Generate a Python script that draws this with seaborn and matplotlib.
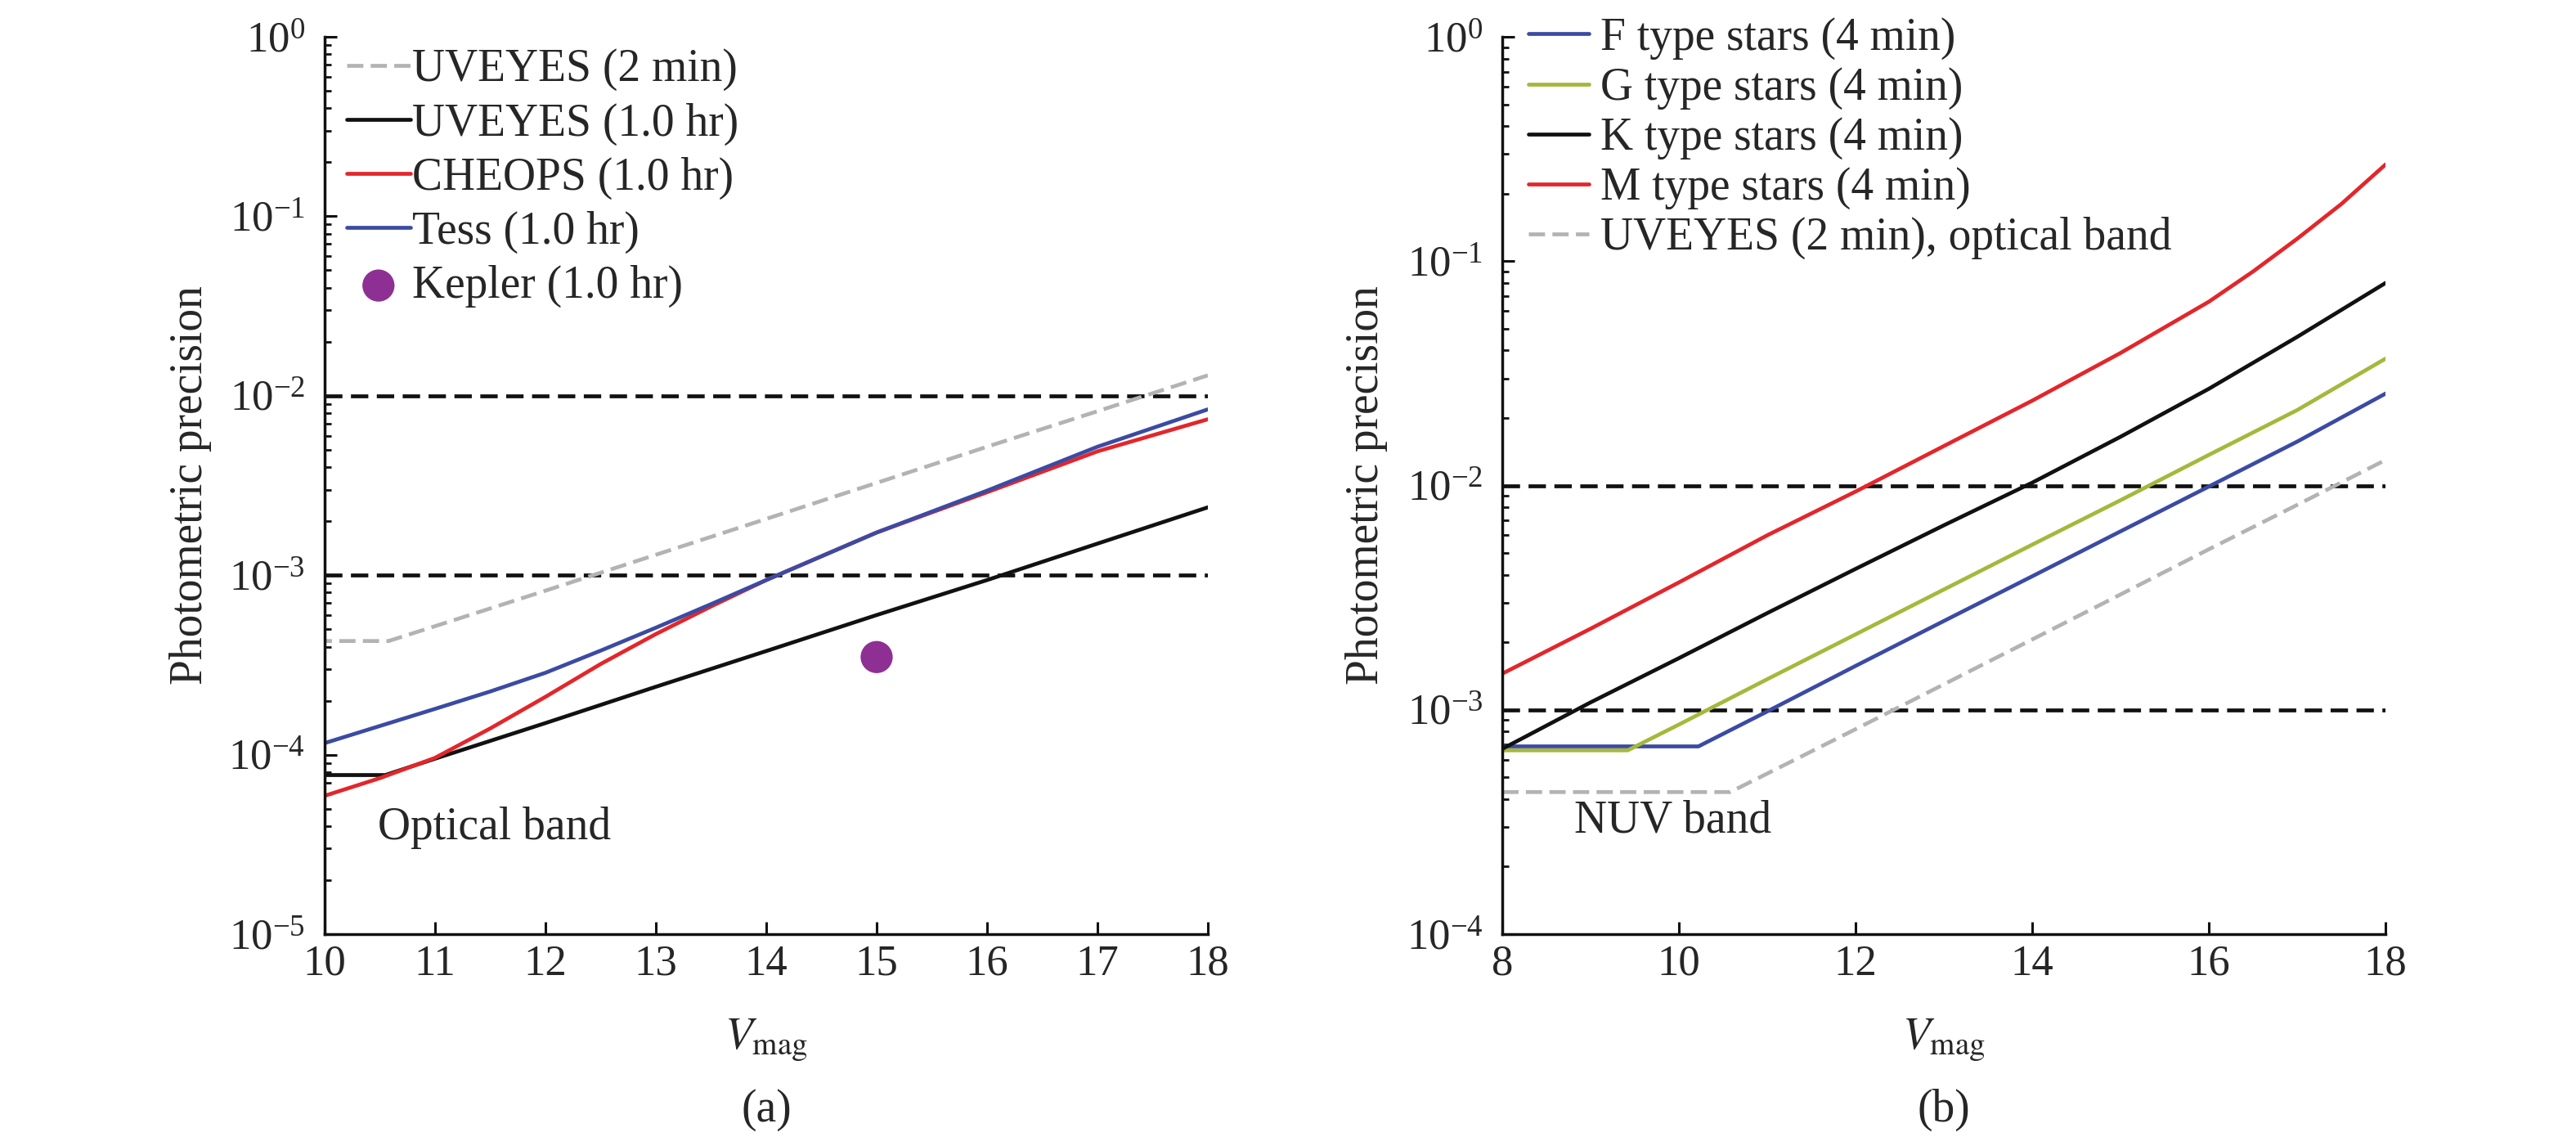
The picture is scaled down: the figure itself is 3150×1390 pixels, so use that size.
import numpy as np
import pandas as pd
import seaborn as sns
import matplotlib
matplotlib.use("agg")
import matplotlib.pyplot as plt

# ---- panel (a): optical band, 1 hr precision vs V magnitude ----
uv2_mag = [8, 10.58, 11, 12, 13, 14, 15, 16, 17, 18]
uv2_prec = [4.3e-4, 4.3e-4, 5.2e-4, 8.2e-4, 1.3e-3, 2.06e-3, 3.27e-3, 5.2e-3, 8.2e-3, 1.3e-2]

uv1h_mag = [10, 10.55, 11, 12, 13, 14, 15, 16, 17, 18]
uv1h_prec = [7.7e-5, 7.7e-5, 9.5e-5, 1.5e-4, 2.39e-4, 3.78e-4, 6.0e-4, 9.4e-4, 1.5e-3, 2.39e-3]

cheops_mag = [10, 10.5, 11, 11.5, 12, 12.5, 13, 13.5, 14, 15, 16, 17, 18]
cheops_prec = [5.9e-5, 7.4e-5, 9.6e-5, 1.4e-4, 2.1e-4, 3.2e-4, 4.7e-4, 6.7e-4, 9.4e-4, 1.73e-3, 2.9e-3, 4.9e-3, 7.4e-3]

tess_mag = [10, 11, 11.5, 12, 12.5, 13, 13.5, 14, 15, 16, 17, 18]
tess_prec = [1.16e-4, 1.8e-4, 2.25e-4, 2.86e-4, 3.8e-4, 5.1e-4, 6.9e-4, 9.4e-4, 1.73e-3, 2.96e-3, 5.2e-3, 8.4e-3]

kepler_mag = [15.0]
kepler_prec = [3.5e-4]

# ---- panel (b): NUV band, 4 min precision by stellar type ----
f_mag = [8, 10.22, 11, 12, 13, 14, 15, 16, 17, 18]
f_prec = [6.87e-4, 6.87e-4, 9.84e-4, 1.57e-3, 2.49e-3, 3.94e-3, 6.25e-3, 9.9e-3, 1.57e-2, 2.57e-2]

g_mag = [8, 9.42, 10, 11, 12, 13, 14, 15, 16, 17, 18]
g_prec = [6.6e-4, 6.6e-4, 8.6e-4, 1.37e-3, 2.17e-3, 3.44e-3, 5.45e-3, 8.6e-3, 1.37e-2, 2.17e-2, 3.68e-2]

k_mag = [8, 9, 10, 11, 12, 13, 14, 15, 16, 17, 18]
k_prec = [6.7e-4, 1.08e-3, 1.7e-3, 2.7e-3, 4.25e-3, 6.65e-3, 1.03e-2, 1.65e-2, 2.7e-2, 4.6e-2, 8.0e-2]

m_mag = [8, 9, 10, 11, 12, 13, 14, 15, 16, 16.5, 17, 17.5, 18]
m_prec = [1.45e-3, 2.3e-3, 3.7e-3, 6.0e-3, 9.4e-3, 1.5e-2, 2.39e-2, 3.9e-2, 6.6e-2, 9.0e-2, 1.26e-1, 1.8e-1, 2.7e-1]

limits = [1e-2, 1e-3]

BLUE = "#3b4ba3"
RED = "#e3262b"
GREEN = "#a5b83b"
GRAY = "#b3b3b3"
PURPLE = "#8e3093"
INK = "#111111"

sns.set_style("ticks")
plt.rcParams["font.family"] = ["Liberation Serif", "DejaVu Serif"]
plt.rcParams["mathtext.fontset"] = "stix"
plt.rcParams["axes.linewidth"] = 2.5

FS = 40     # labels, legend, notes
TFS = 38    # tick labels
LW = 3.4
GRAY_DASH = (0, (4.2, 1.9))
LIMIT_DASH = (0, (4.5, 2.2))

fig = plt.figure(figsize=(31.5, 13.9), dpi=100)
ax1 = fig.add_axes([0.126, 0.1784, 0.3429, 0.7892])
ax2 = fig.add_axes([0.5832, 0.1784, 0.3429, 0.7892])


def style_axis(ax, xticks, ylim):
    ax.set_yscale("log")
    ax.set_ylim(*ylim)
    ax.set_xticks(xticks)
    ax.set_xlim(xticks[0], xticks[-1])
    sns.despine(ax=ax)
    ax.tick_params(axis="both", which="major", direction="in", length=11,
                   width=2.2, labelsize=TFS, color=INK)
    ax.tick_params(axis="y", which="major", pad=17)
    ax.tick_params(axis="x", which="major", pad=9)
    ax.tick_params(axis="y", which="minor", direction="in", length=5.5, width=2, color=INK)
    ax.tick_params(axis="x", which="minor", bottom=False)
    for sp in ax.spines.values():
        sp.set_color(INK)
    for y in limits:
        ax.axhline(y, color=INK, lw=LW, ls=LIMIT_DASH, zorder=1)
    ax.set_xlabel(r"$V_{\rm mag}$", fontsize=FS, va="center")
    ax.xaxis.set_label_coords(0.5, -0.118)
    ax.set_ylabel("Photometric precision", fontsize=FS, va="center")


# panel (a)
sns.lineplot(x=uv2_mag, y=uv2_prec, ax=ax1, color=GRAY, lw=LW, linestyle=GRAY_DASH,
             label="UVEYES (2 min)")
sns.lineplot(x=uv1h_mag, y=uv1h_prec, ax=ax1, color=INK, lw=LW, label="UVEYES (1.0 hr)")
sns.lineplot(x=cheops_mag, y=cheops_prec, ax=ax1, color=RED, lw=LW, label="CHEOPS (1.0 hr)")
sns.lineplot(x=tess_mag, y=tess_prec, ax=ax1, color=BLUE, lw=LW, label="Tess (1.0 hr)")
sns.scatterplot(x=kepler_mag, y=kepler_prec, ax=ax1, color=PURPLE, s=800, edgecolor="none",
                label="Kepler (1.0 hr)", zorder=5)
style_axis(ax1, [10, 11, 12, 13, 14, 15, 16, 17, 18], (1e-5, 1))
ax1.yaxis.set_label_coords(-0.152, 0.5)
ax1.text(10.48, 3.9e-5, "Optical band", fontsize=FS, ha="left", va="center")
ax1.text(0.5, -0.196, "(a)", transform=ax1.transAxes, fontsize=FS, ha="center", va="center")
h, l = ax1.get_legend_handles_labels()
ax1.legend(h, l, loc="upper left", bbox_to_anchor=(0.025, 0.987), frameon=False,
           fontsize=FS, handlelength=1.4, handletextpad=0.05, labelspacing=0.25,
           borderpad=0, borderaxespad=0, scatterpoints=1)

# panel (b)
sns.lineplot(x=f_mag, y=f_prec, ax=ax2, color=BLUE, lw=LW, label="F type stars (4 min)")
sns.lineplot(x=g_mag, y=g_prec, ax=ax2, color=GREEN, lw=LW, label="G type stars (4 min)")
sns.lineplot(x=k_mag, y=k_prec, ax=ax2, color=INK, lw=LW, label="K type stars (4 min)")
sns.lineplot(x=m_mag, y=m_prec, ax=ax2, color=RED, lw=LW, label="M type stars (4 min)")
sns.lineplot(x=uv2_mag, y=uv2_prec, ax=ax2, color=GRAY, lw=LW, linestyle=GRAY_DASH,
             label="UVEYES (2 min), optical band")
style_axis(ax2, [8, 10, 12, 14, 16, 18], (1e-4, 1))
ax2.yaxis.set_label_coords(-0.154, 0.5)
ax2.text(8.81, 3.2e-4, "NUV band", fontsize=FS, ha="left", va="center")
ax2.text(0.5, -0.196, "(b)", transform=ax2.transAxes, fontsize=FS, ha="center", va="center")
h, l = ax2.get_legend_handles_labels()
ax2.legend(h, l, loc="upper left", bbox_to_anchor=(0.0296, 1.022), frameon=False,
           fontsize=FS, handlelength=1.33, handletextpad=0.25, labelspacing=0.16,
           borderpad=0, borderaxespad=0)

fig.savefig("out.png", dpi=100, facecolor="white")
